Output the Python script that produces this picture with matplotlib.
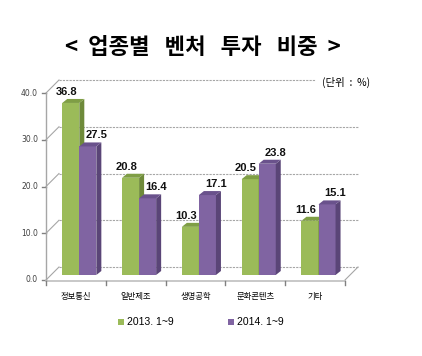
import matplotlib
matplotlib.use("Agg")
import matplotlib.pyplot as plt
from matplotlib.patches import Polygon, Rectangle
import numpy as np

plt.rcParams['font.family'] = ['Noto Sans CJK KR', 'DejaVu Sans']

categories = ["정보통신", "일반제조", "생명공학", "문화콘텐츠", "기타"]
series_names = ["2013. 1~9", "2014. 1~9"]
vals_2013 = [36.8, 20.8, 10.3, 20.5, 11.6]
vals_2014 = [27.5, 16.4, 17.1, 23.8, 15.1]
yticks = [0, 10, 20, 30, 40]

front = ["#9BBB59", "#8064A2"]
side = ["#6E8A3A", "#5A4577"]
top = ["#7F9E45", "#6A528C"]
label_shift = [-3, 6]  # points, horizontal nudge of value labels per series

W, H = 422, 356
fig = plt.figure(figsize=(W / 100, H / 100), dpi=100)
L, R, B, T = 46, 345, 280, 93
ax = fig.add_axes([L / W, (H - B) / H, (R - L) / W, (B - T) / H])
ax.set_xlim(0, len(categories))
ax.set_ylim(0, 40)
ax.axis("off")

# pixel -> data unit helpers
px_x = len(categories) / (R - L)
px_y = 40 / (B - T)

# back wall / floor
wx, wy = 13 * px_x, 13 * px_y
grid_c = "#A6A6A6"
for y in yticks:
    ax.plot([wx, len(categories) + wx], [y + wy, y + wy], color=grid_c,
            lw=0.8, ls=(0, (2, 1)), clip_on=False, zorder=1)
    ax.plot([0, wx], [y, y + wy], color=grid_c, lw=0.8, clip_on=False, zorder=1)
    ax.plot([-4 * px_x, 0], [y, y], color="#808080", lw=1, clip_on=False)
    ax.text(-8 * px_x, y, f"{y:.1f}", ha="right", va="center", fontsize=5.5,
            color="#404040", family=["DejaVu Sans"])
ax.plot([len(categories), len(categories) + wx], [0, wy], color=grid_c, lw=0.8,
        clip_on=False, zorder=1)
ax.plot([0, 0], [0, 40], color="#A6A6A6", lw=1, clip_on=False, zorder=2)
ax.plot([0, len(categories)], [-0.2, -0.2], color="#BFBFBF", lw=1.2, clip_on=False, zorder=2)
for i in range(len(categories) + 1):
    ax.plot([i, i], [-0.2, -0.2 - 4 * px_y], color="#808080", lw=1, clip_on=False)

# bars with 3D look
bw = 0.285
sx, sy = 4 * px_x, 5 * px_y
dx, dy = 5 * px_x, 4 * px_y
for k, vals in enumerate([vals_2013, vals_2014]):
    for i, v in enumerate(vals):
        x0 = i + 0.5 + (k - 1) * bw + sx - 0.01
        y0 = sy
        y1 = v + sy
        ax.add_patch(Rectangle((x0, y0), bw, v, facecolor=front[k], edgecolor="none",
                               zorder=5 + k, clip_on=False))
        ax.add_patch(Polygon([(x0 + bw, y0), (x0 + bw + dx, y0 + dy),
                              (x0 + bw + dx, y1 + dy), (x0 + bw, y1)],
                             facecolor=side[k], edgecolor="none", zorder=5 + k, clip_on=False))
        ax.add_patch(Polygon([(x0, y1), (x0 + dx, y1 + dy), (x0 + bw + dx, y1 + dy),
                              (x0 + bw, y1)],
                             facecolor=top[k], edgecolor="none", zorder=5 + k, clip_on=False))
        ax.annotate(f"{v:.1f}", (x0 + bw / 2, y1 + dy), xytext=(label_shift[k], 1.5),
                    textcoords="offset points", ha="center", va="bottom",
                    fontsize=8, fontweight="bold", color="#111111", zorder=10,
                    family=["Liberation Sans"])

for i, c in enumerate(categories):
    ax.text(i + 0.5, -16 * px_y, c, ha="center", va="center", fontsize=6, color="black")

# title and unit
fig.text(203 / W, (H - 47) / H, "<  업종별   벤처   투자   비중  >", ha="center", va="center",
         fontsize=16, fontweight="black", color="black")
fig.text(322 / W, (H - 82) / H, "(단위  :  %)", ha="left", va="center", fontsize=7.5,
         color="black", bbox=dict(facecolor="white", edgecolor="none", pad=4), zorder=20)

# legend
for k, (name, x) in enumerate(zip(series_names, [118, 228])):
    fig.patches.append(Rectangle((x / W, (H - 325) / H), 6 / W, 6 / H, facecolor=front[k],
                                 edgecolor="none", transform=fig.transFigure))
    fig.text((x + 9) / W, (H - 322) / H, name, ha="left", va="center", fontsize=7.5,
             family=["Liberation Sans"])

fig.savefig("out.png", dpi=100)
